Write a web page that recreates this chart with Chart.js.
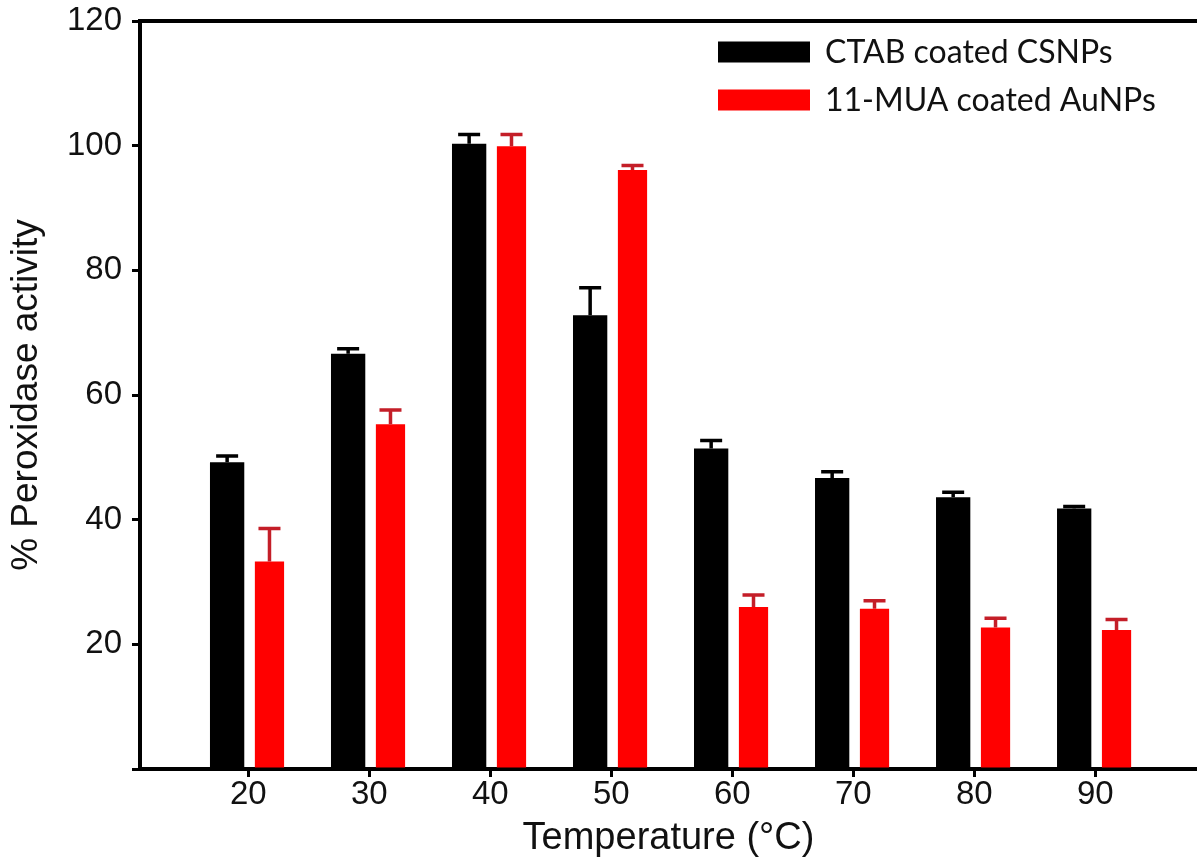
<!DOCTYPE html>
<html>
<head>
<meta charset="utf-8">
<title>Peroxidase activity vs temperature</title>
<script src="https://cdn.jsdelivr.net/npm/chart.js@4.4.1/dist/chart.umd.min.js"></script>
<style>
  body { margin: 0; background: #fff; }
  #wrap { width: 1197px; height: 861px; }
</style>
</head>
<body>
<div id="wrap"><canvas id="TChart" width="1197" height="861"></canvas></div>
<script>
// temperatures (°C)
var temps = [20, 30, 40, 50, 60, 70, 80, 90];

// CTAB coated CSNPs
var ctab = [49.2, 66.6, 100.3, 72.8, 51.4, 46.7, 43.6, 41.8];
var ctabErr = [1.0, 0.8, 1.5, 4.4, 1.3, 1.0, 0.8, 0.3];

// 11-MUA coated AuNPs
var mua = [33.3, 55.3, 99.9, 96.1, 26.0, 25.7, 22.7, 22.3];
var muaErr = [5.3, 2.3, 1.9, 0.7, 1.9, 1.3, 1.5, 1.7];

var yTicks = [0, 20, 40, 60, 80, 100, 120];

function pts(vals) {
  return temps.map(function (t, i) { return { x: t, y: vals[i] }; });
}

// upward-only error bars, drawn from the bar tops using the y scale
var errorBars = {
  id: 'errorBars',
  afterDatasetsDraw: function (chart) {
    var ctx = chart.ctx;
    var ys = chart.scales.y;
    chart.data.datasets.forEach(function (ds, i) {
      var meta = chart.getDatasetMeta(i);
      ctx.save();
      ctx.strokeStyle = ds.errorColor;
      ctx.lineWidth = 3.5;
      meta.data.forEach(function (bar, j) {
        var top = ys.getPixelForValue(ds.data[j].y + ds.errors[j]);
        ctx.beginPath();
        ctx.moveTo(bar.x, bar.y);
        ctx.lineTo(bar.x, top);
        ctx.moveTo(bar.x - 11, top);
        ctx.lineTo(bar.x + 11, top);
        ctx.stroke();
      });
      ctx.restore();
    });
  }
};

// legend in the upper right of the plot
var boxLegend = {
  id: 'boxLegend',
  afterDraw: function (chart) {
    var ctx = chart.ctx;
    ctx.save();
    chart.data.datasets.forEach(function (ds, i) {
      var y = 52 + i * 48;
      ctx.fillStyle = ds.backgroundColor;
      ctx.fillRect(718, y - 10.5, 92, 21);
      ctx.fillStyle = '#111';
      ctx.font = '32px Lato';
      ctx.textBaseline = 'middle';
      ctx.textAlign = 'left';
      ctx.fillText(ds.label, 825, y + 1);
    });
    ctx.restore();
  }
};

Chart.defaults.font.family = '"Liberation Sans", Arial, sans-serif';
Chart.defaults.color = '#111';

new Chart(document.getElementById('TChart'), {
  type: 'bar',
  data: {
    datasets: [{
      label: 'CTAB coated CSNPs',
      data: pts(ctab),
      errors: ctabErr,
      backgroundColor: '#000000',
      errorColor: '#000000',
      barPercentage: 0.81
    }, {
      label: '11-MUA coated AuNPs',
      data: pts(mua),
      errors: muaErr,
      backgroundColor: '#ff0000',
      errorColor: '#c41e28',
      barPercentage: 0.69
    }]
  },
  plugins: [errorBars, boxLegend],
  options: {
    responsive: false,
    animation: false,
    categoryPercentage: 0.70,
    layout: { padding: 0 },
    plugins: {
      legend: { display: false },
      tooltip: { enabled: false }
    },
    scales: {
      x: {
        type: 'linear',
        position: 'bottom',
        min: 11.05,
        max: 98.4,
        offset: false,
        afterBuildTicks: function (scale) {
          scale.ticks = temps.map(function (t) { return { value: t }; });
        },
        afterFit: function (scale) { scale.height = 92; },
        grid: { display: true, drawOnChartArea: false, drawTicks: true, tickLength: 8, color: '#000', lineWidth: 3, offset: false },
        border: { display: true, color: '#000', width: 4 },
        ticks: {
          padding: -2,
          maxRotation: 0,
          autoSkip: false,
          font: { size: 33 },
          color: '#111',
          callback: function (v) { return String(v); }
        },
        title: {
          display: true,
          text: 'Temperature (°C)',
          font: { size: 38 },
          color: '#111',
          padding: { top: 0, bottom: 0 }
        }
      },
      xTop: {
        type: 'linear',
        position: 'top',
        min: 11.05,
        max: 98.4,
        grid: { display: false, drawTicks: false },
        border: { display: true, color: '#000', width: 4 },
        ticks: { display: false }
      },
      y: {
        min: 0,
        max: 120,
        afterBuildTicks: function (scale) {
          scale.ticks = yTicks.map(function (v) { return { value: v }; });
        },
        afterFit: function (scale) {
          scale.width = 140;
          scale.paddingTop = 21;
        },
        grid: { display: true, drawOnChartArea: false, drawTicks: true, tickLength: 8, color: '#000', lineWidth: 3 },
        border: { display: true, color: '#000', width: 4 },
        ticks: {
          padding: 10,
          font: { size: 33 },
          color: '#111',
          callback: function (v) { return v === 0 ? '' : String(v); }
        },
        title: {
          display: true,
          text: '% Peroxidase activity',
          font: { size: 37 },
          color: '#111',
          padding: { top: 5, bottom: 0 }
        }
      }
    }
  }
});
</script>
</body>
</html>
